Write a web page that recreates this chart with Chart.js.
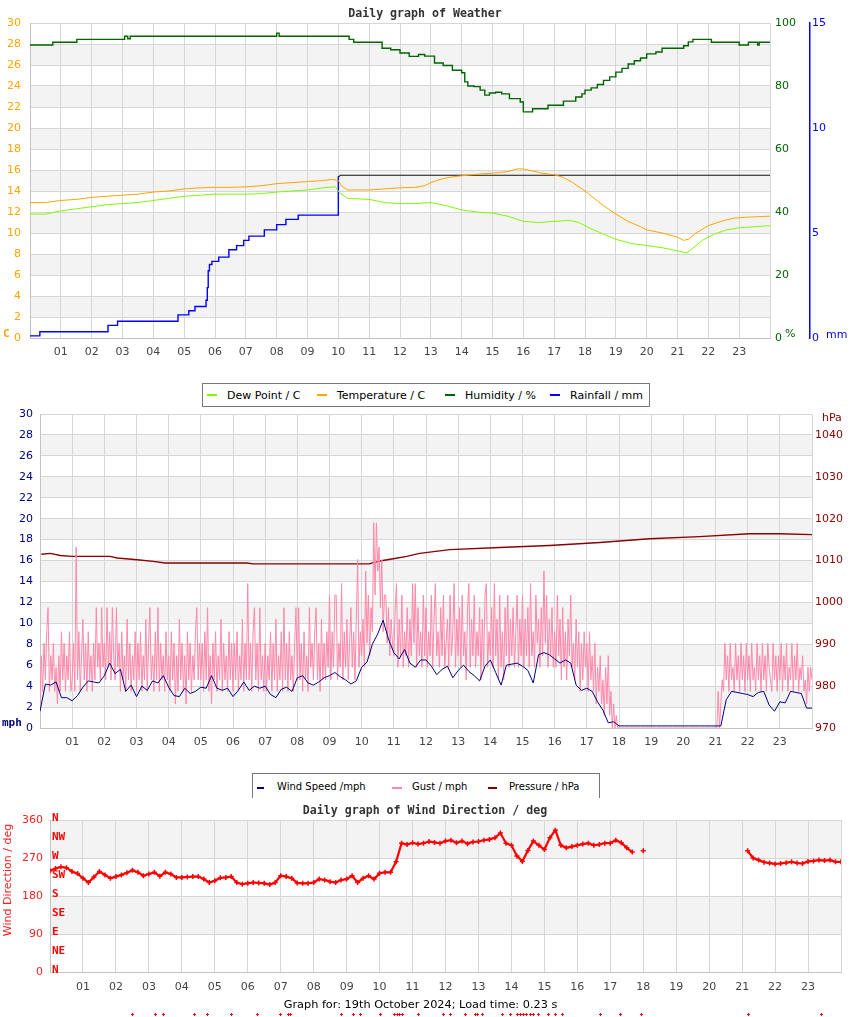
<!DOCTYPE html>
<html>
<head>
<meta charset="utf-8">
<title>Daily graph of Weather</title>
<script src="https://cdn.jsdelivr.net/npm/chart.js@4.4.1/dist/chart.umd.min.js"></script>
<style>
  body { margin: 0; background: #fff; font-family: "DejaVu Sans", sans-serif; }
  #page { position: relative; width: 850px; height: 1017px; overflow: hidden; }
  canvas { position: absolute; left: 0; }
  .title { position: absolute; left: 0; width: 850px; text-align: center; font: bold 11.6px "DejaVu Sans Mono", monospace; color: #333; line-height: 14px; white-space: nowrap; }
  .unit { position: absolute; font-size: 11px; line-height: 13px; white-space: nowrap; }
  .legend { position: absolute; box-sizing: border-box; background: #fff; border: 1px solid #777; z-index: 2; }
  .legend i { position: absolute; height: 2px; }
  .legend span { position: absolute; white-space: nowrap; line-height: 13px; color: #000; }
  .footer { position: absolute; left: 0; width: 841px; top: 998px; text-align: center; font-size: 11.3px; line-height: 14px; color: #000; }
  .ytitle { position: absolute; width: 200px; height: 14px; line-height: 14px; left: -92px; top: 873px; text-align: center; font-size: 11px; color: #ff2020; transform: rotate(-90deg); white-space: nowrap; }
</style>
</head>
<body>
<div id="page">
  <canvas id="weatherChart" width="850" height="370" style="top:0"></canvas>
  <canvas id="windChart" width="850" height="365" style="top:395px"></canvas>
  <canvas id="dirChart" width="850" height="217" style="top:800px"></canvas>

  <div class="title" style="top:6px">Daily graph of Weather</div>
  <div class="title" style="top:393px">Daily graph of Weather</div>
  <div class="title" style="top:803px">Daily graph of Wind Direction / deg</div>

  <div class="unit" style="left:3px;top:327px;color:#ffa500;font:bold 11px 'DejaVu Sans Mono'">C</div>
  <div class="unit" style="left:785px;top:327px;color:#006400">%</div>
  <div class="unit" style="left:826px;top:328px;color:#0000ff">mm</div>
  <div class="unit" style="left:822px;top:411px;color:#8b0000">hPa</div>
  <div class="unit" style="left:2px;top:716px;color:#000080;font:bold 11px 'DejaVu Sans Mono'">mph</div>
  <div class="ytitle">Wind Direction / deg</div>

  <div class="legend" style="left:202px;top:383px;width:448px;height:24px;font-size:11px">
    <i style="left:4px;top:10px;width:10px;background:#7cfc00"></i><span style="left:24px;top:5px">Dew Point / C</span>
    <i style="left:114px;top:10px;width:10px;background:#ffa500"></i><span style="left:134px;top:5px">Temperature / C</span>
    <i style="left:242px;top:10px;width:10px;background:#006400"></i><span style="left:262px;top:5px">Humidity / %</span>
    <i style="left:347px;top:10px;width:10px;background:#0000ff"></i><span style="left:367px;top:5px">Rainfall / mm</span>
  </div>
  <div class="legend" style="left:252px;top:773px;width:348px;height:25px;border-bottom:none;font-size:10px">
    <i style="left:4px;top:13px;width:7px;background:#000080"></i><span style="left:24px;top:6px">Wind Speed /mph</span>
    <i style="left:139px;top:13px;width:10px;background:#ff88aa"></i><span style="left:159px;top:6px">Gust / mph</span>
    <i style="left:235px;top:13px;width:9px;background:#8b0000"></i><span style="left:256px;top:6px">Pressure / hPa</span>
  </div>
  <div class="footer">Graph for: 19th October 2024; Load time: 0.23 s</div>
</div>

<script>
// ---- tick labels ----
const hourTicks = ['01','02','03','04','05','06','07','08','09','10','11','12',
                   '13','14','15','16','17','18','19','20','21','22','23'];
const tempTicks = [0,2,4,6,8,10,12,14,16,18,20,22,24,26,28,30];
const humTicks = [0,20,40,60,80,100];
const rainTicks = [0,5,10,15];
const speedTicks = [0,2,4,6,8,10,12,14,16,18,20,22,24,26,28,30];
const pressTicks = [970,980,990,1000,1010,1020,1030,1040];
const dirTicks = [0,90,180,270,360];
const compassNames = ['N','NE','E','SE','S','SW','W','NW','N'];
const compassDegrees = [0,45,90,135,180,225,270,315,360];

// ---- weather (hours of day) ----
const tempTimes = [0,0.5,1,1.5,2,2.5,3,3.5,4,4.5,5,5.5,6,6.5,7,7.5,8,8.5,9,9.5,9.8,10,10.1,10.3,10.6,11,11.5,12,12.5,12.8,13,13.3,13.6,14,14.5,15,15.5,15.8,16,16.3,16.6,17,17.3,17.6,18,18.3,18.6,19,19.4,19.8,20,20.5,21,21.2,21.35,21.6,22,22.4,22.8,23.2,24];
const tempValues = [12.9,12.9,13.1,13.2,13.4,13.5,13.6,13.7,13.9,14.0,14.2,14.3,14.35,14.35,14.4,14.5,14.7,14.8,14.9,15.0,15.1,15.0,14.5,14.1,14.1,14.1,14.2,14.3,14.35,14.5,14.8,15.1,15.3,15.45,15.6,15.7,15.85,16.1,16.1,15.9,15.7,15.55,15.3,14.8,14.0,13.3,12.6,11.8,11.1,10.6,10.3,10.0,9.6,9.3,9.4,10.0,10.7,11.1,11.4,11.5,11.6];

const dewTimes = [0,0.5,1,1.5,2,2.5,3,3.5,4,4.5,5,5.5,6,7,7.5,8,8.5,9,9.5,9.9,10.05,10.3,11,11.5,12,12.5,13,13.5,14,14.5,15,15.5,16,16.5,17,17.5,17.8,18.2,18.6,19,19.5,20,20.5,21,21.3,21.6,21.8,22.2,22.6,23,24];
const dewValues = [11.8,11.8,12.1,12.3,12.5,12.7,12.8,12.9,13.1,13.3,13.5,13.6,13.7,13.7,13.75,13.9,14.0,14.1,14.3,14.4,13.8,13.3,13.2,12.9,12.8,12.8,12.9,12.6,12.2,12.0,11.9,11.6,11.1,11.0,11.1,11.2,11.0,10.4,9.9,9.4,9.0,8.8,8.6,8.3,8.1,8.8,9.3,9.9,10.3,10.5,10.7];

const humTimes = [0,0.74,1.52,3.07,3.17,3.25,8.0,8.08,10.35,10.5,11.42,11.7,12.0,12.3,12.6,12.8,13.12,13.4,13.7,14.0,14.1,14.2,14.4,14.6,14.75,14.9,15.1,15.3,15.55,15.75,15.9,16.0,16.3,16.6,16.8,17.2,17.3,17.5,17.7,17.9,18.0,18.2,18.4,18.6,18.8,19.0,19.2,19.4,19.6,19.8,20.0,20.3,20.5,21.2,21.35,21.5,22.1,23.0,23.3,23.6,23.65,24];
const humValues = [93.0,93.9,94.8,95.8,95.0,95.8,96.8,95.8,94.8,93.9,92.0,91.5,90.5,89.4,90.0,89.5,87.3,86.5,85.0,84.2,81.3,80.0,79.8,78.7,77.1,77.8,78.0,77.5,76.0,76.0,74.9,71.8,72.8,72.8,73.9,73.9,75.2,75.2,76.5,77.5,78.7,79.4,80.5,81.8,82.9,84.4,85.6,87.0,88.0,88.9,90.2,90.8,92.0,92.8,94.0,94.8,93.9,93.0,93.9,93.0,93.9,93.9];

const rainTimes = [0,0.32,2.53,2.84,4.8,5.15,5.35,5.71,5.75,5.78,5.82,5.9,6.12,6.45,6.7,6.93,7.1,7.6,8.0,8.3,8.7,10.0,10.05,24];
const rainValues = [0.1,0.3,0.6,0.8,1.1,1.3,1.5,1.8,2.4,3.2,3.5,3.65,3.85,4.2,4.4,4.65,4.85,5.15,5.4,5.65,5.85,7.7,7.75,7.75];

// ---- wind: speed every 10 minutes, gust every 2.5 minutes ----
const windSpeed = [
  1.6,4.2,4.1,4.4,2.9,2.9,  2.6,3.1,3.9,4.5,4.4,4.3,  5.0,6.2,5.2,5.6,3.5,4.1,
  3.0,4.0,3.6,4.5,4.3,5.0,  3.9,3.1,3.0,3.8,3.3,3.5,  3.9,3.8,5.0,3.8,3.6,3.8,
  3.0,3.6,4.4,3.6,4.0,3.8,  4.0,3.2,2.9,3.7,3.9,3.5,  4.8,5.0,4.3,4.1,4.4,4.8,
  5.0,5.3,4.9,4.6,4.2,4.5,  5.8,6.3,8.0,9.0,10.3,8.5, 7.2,6.6,7.5,6.2,5.8,6.5,
  6.5,5.9,5.1,5.6,5.9,4.8,  5.5,6.0,5.4,5.0,4.5,5.9,  6.5,5.3,4.1,6.0,6.1,6.2,
  5.9,5.5,4.3,7.0,7.2,7.0,  6.6,6.2,6.5,6.2,4.1,3.6,  3.8,3.5,2.5,1.7,0.5,0.6,
  0.2,0.2,0.2,0.2,0.2,0.2,  0.2,0.2,0.2,0.2,0.2,0.2,  0.2,0.2,0.2,0.2,0.2,0.2,
  0.2,0.2,2.7,3.5,3.4,3.3,  3.2,3.0,3.4,3.5,2.2,1.6,  2.5,2.4,3.5,3.4,3.3,1.9,
  1.9
];
const gust = [
  2.3,6.9,3.5,8.1,4.6,9.2,11.5,3.5,6.9,4.6,8.1,3.5,5.8,2.3,6.9,3.5,9.2,4.6,8.1,3.5,6.9,4.6,9.2,3.5,
  4.6,8.1,3.5,17.3,4.6,9.2,3.5,6.9,10.4,4.6,8.1,3.5,9.2,4.6,6.9,3.5,8.1,4.6,11.5,5.8,8.1,4.6,11.5,5.8,
  8.1,4.6,11.5,5.8,9.2,4.6,11.5,6.9,4.6,11.5,5.8,8.1,3.5,9.2,4.6,6.9,3.5,10.4,4.6,8.1,3.5,6.9,4.6,9.2,
  3.5,8.1,4.6,9.2,3.5,6.9,4.6,10.4,3.5,8.1,11.5,4.6,6.9,3.5,9.2,4.6,11.5,3.5,8.1,4.6,6.9,3.5,9.2,4.6,
  6.9,3.5,9.2,4.6,8.1,2.3,6.9,3.5,10.4,4.6,8.1,3.5,6.9,2.3,9.2,4.6,8.1,3.5,6.9,4.6,9.2,11.5,4.6,8.1,
  4.6,8.1,3.5,9.2,4.6,11.5,3.5,6.9,2.3,8.1,4.6,9.2,3.5,6.9,4.6,10.4,3.5,8.1,4.6,6.9,3.5,9.2,4.6,8.1,
  3.5,8.1,4.6,9.2,3.5,6.9,4.6,10.4,3.5,8.1,4.6,13.8,4.6,8.1,3.5,9.2,11.5,4.6,8.1,3.5,11.5,4.6,6.9,3.5,
  8.1,3.5,6.9,4.6,9.2,3.5,8.1,4.6,10.4,3.5,6.9,4.6,9.2,3.5,11.5,4.6,8.1,3.5,9.2,4.6,6.9,3.5,8.1,11.5,
  4.6,11.5,4.6,8.1,3.5,9.2,4.6,6.9,3.5,11.5,5.8,8.1,4.6,9.2,11.5,4.6,8.1,3.5,10.4,4.6,8.1,4.6,9.2,5.8,
  12.7,4.6,9.2,5.8,12.7,12.7,4.6,8.1,5.8,13.8,4.6,9.2,5.8,10.4,4.6,8.1,11.5,5.8,9.2,4.6,10.4,16.1,5.8,9.2,
  6.9,10.4,5.8,15.0,8.1,12.7,6.9,11.5,9.2,19.6,12.7,19.6,15.0,17.3,11.5,16.1,9.2,12.7,12.7,8.1,11.5,6.9,10.4,8.1,
  6.9,11.5,13.8,5.8,10.4,6.9,12.7,5.8,9.2,6.9,11.5,5.8,10.4,6.9,13.8,8.1,13.8,5.8,11.5,6.9,9.2,5.8,12.7,6.9,
  11.5,5.8,9.2,6.9,12.7,5.8,10.4,13.8,6.9,9.2,5.8,11.5,6.9,12.7,5.8,8.1,10.4,5.8,12.7,6.9,9.2,13.8,5.8,10.4,
  6.9,11.5,5.8,12.7,6.9,9.2,4.6,11.5,13.8,5.8,10.4,6.9,12.7,5.8,9.2,6.9,11.5,4.6,10.4,5.8,12.7,13.8,5.8,9.2,
  6.9,11.5,5.8,13.8,6.9,10.4,4.6,12.7,5.8,9.2,4.6,11.5,6.9,12.7,5.8,10.4,6.9,11.5,5.8,9.2,12.7,5.8,10.4,6.9,
  12.7,5.8,10.4,6.9,11.5,5.8,13.8,6.9,9.2,5.8,12.7,8.1,10.4,5.8,11.5,6.9,15.0,8.1,12.7,5.8,10.4,6.9,11.5,5.8,
  9.2,5.8,12.7,6.9,10.4,4.6,11.5,5.8,9.2,4.6,10.4,6.9,12.7,5.8,8.1,4.6,10.4,5.8,9.2,3.5,8.1,4.6,9.2,5.8,
  8.1,3.5,9.2,4.6,6.9,3.5,8.1,2.3,5.8,3.5,6.9,2.3,4.6,1.2,5.8,2.3,6.9,1.2,3.5,0,2.3,0,1.2,0,
  0,0,0,0,0,0,0,0,0,0,0,0,0,0,0,0,0,0,0,0,0,0,0,0,
  0,0,0,0,0,0,0,0,0,0,0,0,0,0,0,0,0,0,0,0,0,0,0,0,
  0,0,0,0,0,0,0,0,0,0,0,0,0,0,0,0,0,0,0,0,0,0,0,0,
  0,0,3.5,0,2.3,4.6,3.5,8.1,4.6,6.9,3.5,8.1,4.6,5.8,3.5,8.1,4.6,6.9,3.5,8.1,4.6,6.9,3.5,8.1,
  4.6,6.9,3.5,8.1,4.6,5.8,3.5,8.1,4.6,6.9,3.5,8.1,4.6,6.9,3.5,8.1,5.8,4.6,3.5,8.1,4.6,6.9,3.5,6.9,
  4.6,8.1,3.5,6.9,4.6,8.1,3.5,5.8,4.6,8.1,3.5,6.9,4.6,8.1,3.5,5.8,4.6,6.9,3.5,4.6,2.3,5.8,3.5,5.8,
  4.6
];
const pressTimes = [0.04,0.32,0.63,1.0,2.18,2.4,3.02,3.52,3.89,6.43,6.62,9.54,10.25,10.35,10.66,11.03,11.4,11.8,12.74,14.29,15.84,17.4,18.95,20.5,22.05,22.99,24];
const pressValues = [1011.5,1011.7,1011.2,1011.0,1011.0,1010.6,1010.2,1009.8,1009.4,1009.4,1009.2,1009.2,1009.2,1009.5,1010.0,1010.5,1011.0,1011.7,1012.6,1013.1,1013.6,1014.3,1015.2,1015.7,1016.4,1016.4,1016.2];

// ---- wind direction every 10 minutes (null = no reading) ----
const windDir = [
  240,245,249,247,238,233,  222,212,225,238,230,222,  226,230,235,241,236,228,
  232,236,227,236,232,224,  224,225,226,226,220,212,  216,223,224,226,212,208,
  210,212,211,210,207,212,  228,226,222,211,210,210,  212,220,218,214,212,218,
  220,228,212,222,228,220,  234,236,236,261,305,302,  306,303,305,309,307,305,
  310,312,306,310,304,308,  309,312,314,318,329,305,  300,275,262,288,310,300,
  290,318,336,300,294,297,  300,303,305,300,302,305,  305,312,306,294,284,null,
  287,null,null,null,null,null,  null,null,null,null,null,null,  null,null,null,null,null,null,
  null,287,270,265,260,258,  256,257,259,261,258,257,  262,263,265,264,265,261,
  261
];
// calm readings, marked below the axis as in the original
const calmTimes = [2.48,3.18,3.42,4.36,4.76,5.48,6.27,6.97,7.21,7.27,8.82,9.18,9.42,10.0,10.45,10.52,10.6,10.67,11.18,11.91,12.15,12.58,12.88,12.97,13.12,13.7,13.97,14.18,14.27,14.36,14.45,14.55,14.64,14.82,15.12,15.33,15.52,16.7,17.3,17.94,21.18,23.39];
const calmValue = -99;

// ---- helpers ----
const toPoints = (times, values) => times.map((t, i) => ({ x: t, y: values[i] }));
const everyStep = (values, step) => values.map((v, i) => ({ x: i * step, y: v }));
const setTicks = list => scale => { scale.ticks = list.map(v => ({ value: v })); };

Chart.defaults.font.family = 'DejaVu Sans';
Chart.defaults.font.size = 11;
const gridColor = '#d6d6d6';
const tickFont = { family: 'DejaVu Sans', size: 11 };

// alternating grey bands behind the grid
const bandPlugin = {
  id: 'bands',
  beforeDraw(chart, args, opts) {
    const { ctx, chartArea: a } = chart;
    const ys = chart.scales[opts.axis];
    ctx.save();
    ctx.fillStyle = '#f3f3f3';
    for (let v = opts.from; v < ys.max; v += opts.step * 2) {
      const top = ys.getPixelForValue(Math.min(v + opts.step, ys.max));
      const bottom = ys.getPixelForValue(v);
      ctx.fillRect(a.left, top, a.right - a.left, bottom - top);
    }
    ctx.restore();
  }
};

// compass letters inside the direction plot
const compassPlugin = {
  id: 'compass',
  beforeDatasetsDraw(chart) {
    const { ctx, chartArea: a } = chart;
    const ys = chart.scales.y;
    ctx.save();
    ctx.font = 'bold 11px "DejaVu Sans Mono"';
    ctx.fillStyle = '#ff0000';
    ctx.textBaseline = 'middle';
    compassNames.forEach((name, i) => {
      ctx.fillText(name, a.left + 2, ys.getPixelForValue(compassDegrees[i]) - 2);
    });
    ctx.restore();
  }
};

// calm markers sit below the plot area, where Chart.js won't draw points
const calmPlugin = {
  id: 'calm',
  afterDatasetsDraw(chart) {
    const { ctx } = chart;
    const xs = chart.scales.x, ys = chart.scales.y;
    const y = Math.round(ys.getPixelForValue(calmValue)) + 0.5;
    ctx.save();
    ctx.strokeStyle = '#ff0000';
    ctx.lineWidth = 1;
    calmTimes.forEach(t => {
      const x = Math.round(xs.getPixelForValue(t)) + 0.5;
      ctx.beginPath();
      ctx.moveTo(x - 1.5, y); ctx.lineTo(x + 1.5, y);
      ctx.moveTo(x, y - 1.5); ctx.lineTo(x, y + 1.5);
      ctx.stroke();
    });
    ctx.restore();
  }
};

function hourAxis(padding, height) {
  return {
    type: 'linear', min: 0, max: 24,
    afterBuildTicks: scale => { scale.ticks = Array.from({ length: 25 }, (_, h) => ({ value: h })); },
    ticks: { autoSkip: false, maxRotation: 0, padding: padding, color: '#444', font: tickFont,
             callback: v => hourTicks[v - 1] || '' },
    grid: { color: gridColor, drawTicks: false },
    border: { color: '#c4c4c4' },
    afterFit: scale => { scale.height = height; }
  };
}

function valueAxis(opts) {
  return {
    type: 'linear', position: opts.position, min: opts.min, max: opts.max,
    afterBuildTicks: setTicks(opts.ticks),
    ticks: { color: opts.color, font: tickFont, padding: opts.padding, callback: v => String(v) },
    grid: opts.grid ? { color: gridColor, drawTicks: false }
                    : { drawOnChartArea: false, drawTicks: false },
    border: opts.border || { display: false },
    afterFit: scale => { scale.width = opts.width; }
  };
}

const baseOptions = (padding) => ({
  responsive: false,
  animation: false,
  events: [],
  layout: { padding: padding },
  elements: { point: { radius: 0 }, line: { tension: 0 } },
  plugins: { legend: { display: false }, tooltip: { enabled: false } }
});

// ---- chart 1: weather ----
const weatherOptions = baseOptions({ top: 23, left: 0, right: 0, bottom: 0 });
weatherOptions.plugins.bands = { axis: 'y', from: 2, step: 2 };
weatherOptions.scales = {
  x: hourAxis(8, 32),
  y: valueAxis({ position: 'left', min: 0, max: 30, ticks: tempTicks, color: '#ffa500', padding: 9, width: 30,
                 grid: true, border: { color: '#c4c4c4' } }),
  y1: valueAxis({ position: 'right', min: 0, max: 100, ticks: humTicks, color: '#006400', padding: 5, width: 40 }),
  y2: valueAxis({ position: 'right', min: 0, max: 15, ticks: rainTicks, color: '#0000ff', padding: 2, width: 40,
                  border: { display: true, color: '#0000ff', width: 1.5 } })
};

new Chart(document.getElementById('weatherChart'), {
  type: 'line',
  data: {
    datasets: [
      { label: 'Dew Point / C', data: toPoints(dewTimes, dewValues), borderColor: '#7cfc00', borderWidth: 1, yAxisID: 'y' },
      { label: 'Temperature / C', data: toPoints(tempTimes, tempValues), borderColor: '#ffa500', borderWidth: 1, yAxisID: 'y' },
      { label: 'Humidity / %', data: toPoints(humTimes, humValues), borderColor: '#006400', borderWidth: 1.4, stepped: true, yAxisID: 'y1' },
      { label: 'Rainfall / mm', data: toPoints(rainTimes, rainValues), borderColor: '#0000ff', borderWidth: 1.4, stepped: true, yAxisID: 'y2',
        segment: { borderColor: c => (c.p0.parsed.x >= 10 ? '#111' : undefined), borderWidth: c => (c.p0.parsed.x >= 10 ? 1 : undefined) } }
    ]
  },
  options: weatherOptions,
  plugins: [bandPlugin]
});

// ---- chart 2: wind speed, gust, pressure ----
const windOptions = baseOptions({ top: 19, left: 0, right: 0, bottom: 0 });
windOptions.plugins.bands = { axis: 'y', from: 2, step: 2 };
windOptions.scales = {
  x: hourAxis(8, 32),
  y: valueAxis({ position: 'left', min: 0, max: 30, ticks: speedTicks, color: '#000080', padding: 7, width: 40,
                 grid: true, border: { color: '#c4c4c4' } }),
  yp: valueAxis({ position: 'right', min: 970, max: 1045, ticks: pressTicks, color: '#8b0000', padding: 3, width: 38 })
};

new Chart(document.getElementById('windChart'), {
  type: 'line',
  data: {
    datasets: [
      { label: 'Wind Speed /mph', data: everyStep(windSpeed, 1 / 6), borderColor: '#000080', borderWidth: 1, yAxisID: 'y' },
      { label: 'Gust / mph', data: everyStep(gust, 1 / 24), borderColor: '#ff88aa', borderWidth: 1, yAxisID: 'y' },
      { label: 'Pressure / hPa', data: toPoints(pressTimes, pressValues), borderColor: '#8b0000', borderWidth: 1.4, yAxisID: 'yp' }
    ]
  },
  options: windOptions,
  plugins: [bandPlugin]
});

// ---- chart 3: wind direction ----
const dirOptions = baseOptions({ top: 20, left: 0, right: 9, bottom: 0 });
dirOptions.plugins.bands = { axis: 'y', from: 90, step: 90 };
dirOptions.scales = {
  x: hourAxis(9, 45),
  y: valueAxis({ position: 'left', min: 0, max: 360, ticks: dirTicks, color: '#ff2020', padding: 7, width: 50,
                 grid: true, border: { color: '#c4c4c4' } })
};

new Chart(document.getElementById('dirChart'), {
  type: 'line',
  data: {
    datasets: [
      { label: 'Wind Direction / deg', data: everyStep(windDir, 1 / 6), borderColor: '#ff0000', borderWidth: 2.2,
        pointStyle: 'cross', pointRadius: 2.5, pointBorderWidth: 1.5, pointBorderColor: '#ff0000', spanGaps: false }
    ]
  },
  options: dirOptions,
  plugins: [bandPlugin, compassPlugin, calmPlugin]
});
</script>
</body>
</html>
